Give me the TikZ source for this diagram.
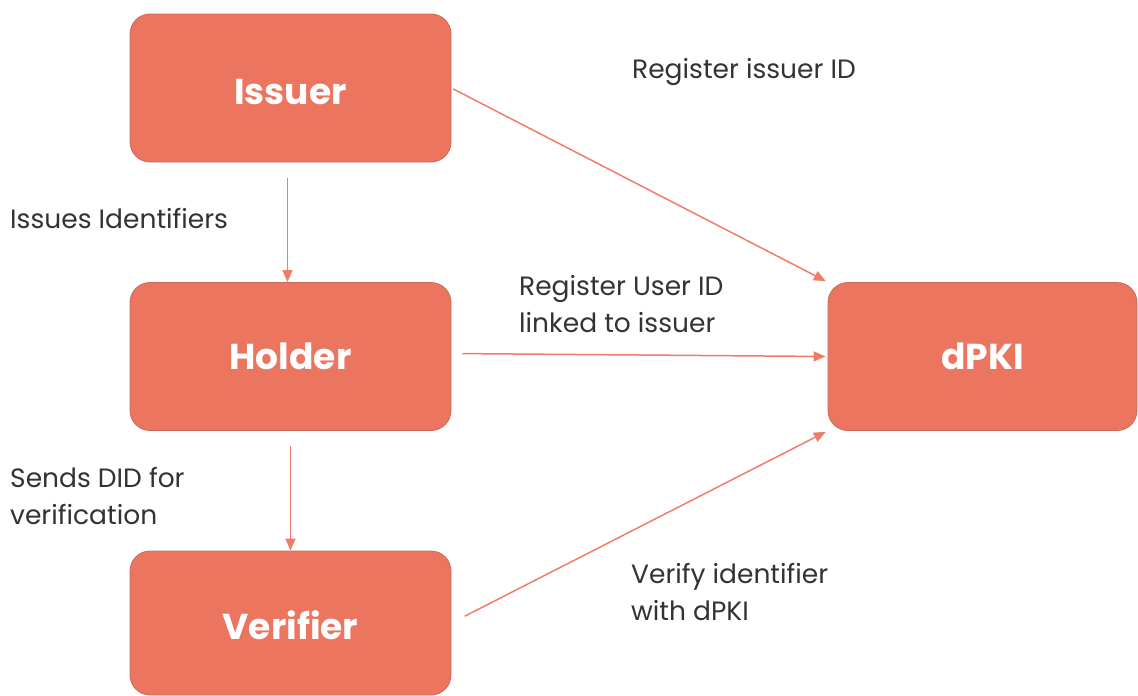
\documentclass[tikz,border=0pt]{standalone}
\usepackage{fontspec}
\setmainfont{Poppins}
\usetikzlibrary{arrows.meta}
\definecolor{boxfill}{HTML}{EC7560}
\definecolor{boxline}{HTML}{C96A58}
\definecolor{flow}{HTML}{F07D6A}
\definecolor{labeltext}{HTML}{333333}
\tikzset{
  actor/.style={draw=boxline, line width=0.8pt, fill=boxfill, rounded corners=20pt,
    minimum width=321pt, minimum height=148pt, inner sep=0pt,
    text=white, font=\fontsize{36}{40}\selectfont\bfseries},
  lowtext/.style={text height=32pt, text depth=0pt},
  flowarrow/.style={draw=flow, line width=1.5pt, -{Triangle[length=12pt,width=10pt]}},
  note/.style={text=labeltext, inner sep=0pt, anchor=base west, align=left,
    font=\fontsize{26.5}{37}\selectfont}
}
\begin{document}
\begin{tikzpicture}[x=1pt,y=-1pt]
\useasboundingbox (0,0) rectangle (1138,696);
% the four parties
\node[actor, lowtext] (issuer) at (290.5,88) {Issuer};
\node[actor] (holder) at (290.5,356.5) {Holder};
\node[actor, lowtext, minimum height=144pt] (verifier) at (290.5,623) {Verifier};
\node[actor, minimum width=309pt] (dpki) at (982.5,356.5) {dPKI};
% flows between them
\draw[flowarrow, shorten <=16pt] ([xshift=-3pt]issuer.south) -- ([xshift=-3pt]holder.north);
\draw[flowarrow, shorten <=15pt] (holder.south) -- (verifier.north);
\draw[flowarrow, shorten <=2pt, shorten >=2pt] (issuer.east) -- (dpki.north west);
\draw[flowarrow, shorten <=11pt, shorten >=2pt] ([yshift=3pt]holder.east) -- (dpki.west);
\draw[flowarrow, shorten <=15pt, shorten >=2pt] (verifier.east) -- (dpki.south west);
% flow labels (multi-line ones are placed by their last baseline)
\node[note] (l1) at (632,78)  {Register issuer ID};
\node[note] (l2) at (10,228)  {Issues Identifiers};
\node[note] (l3) at (519,332) {Register User ID\\linked to issuer};
\node[note] (l4) at (10,524)  {Sends DID for\\verification};
\node[note] (l5) at (631,620) {Verify identifier\\with dPKI};
\end{tikzpicture}
\end{document}
